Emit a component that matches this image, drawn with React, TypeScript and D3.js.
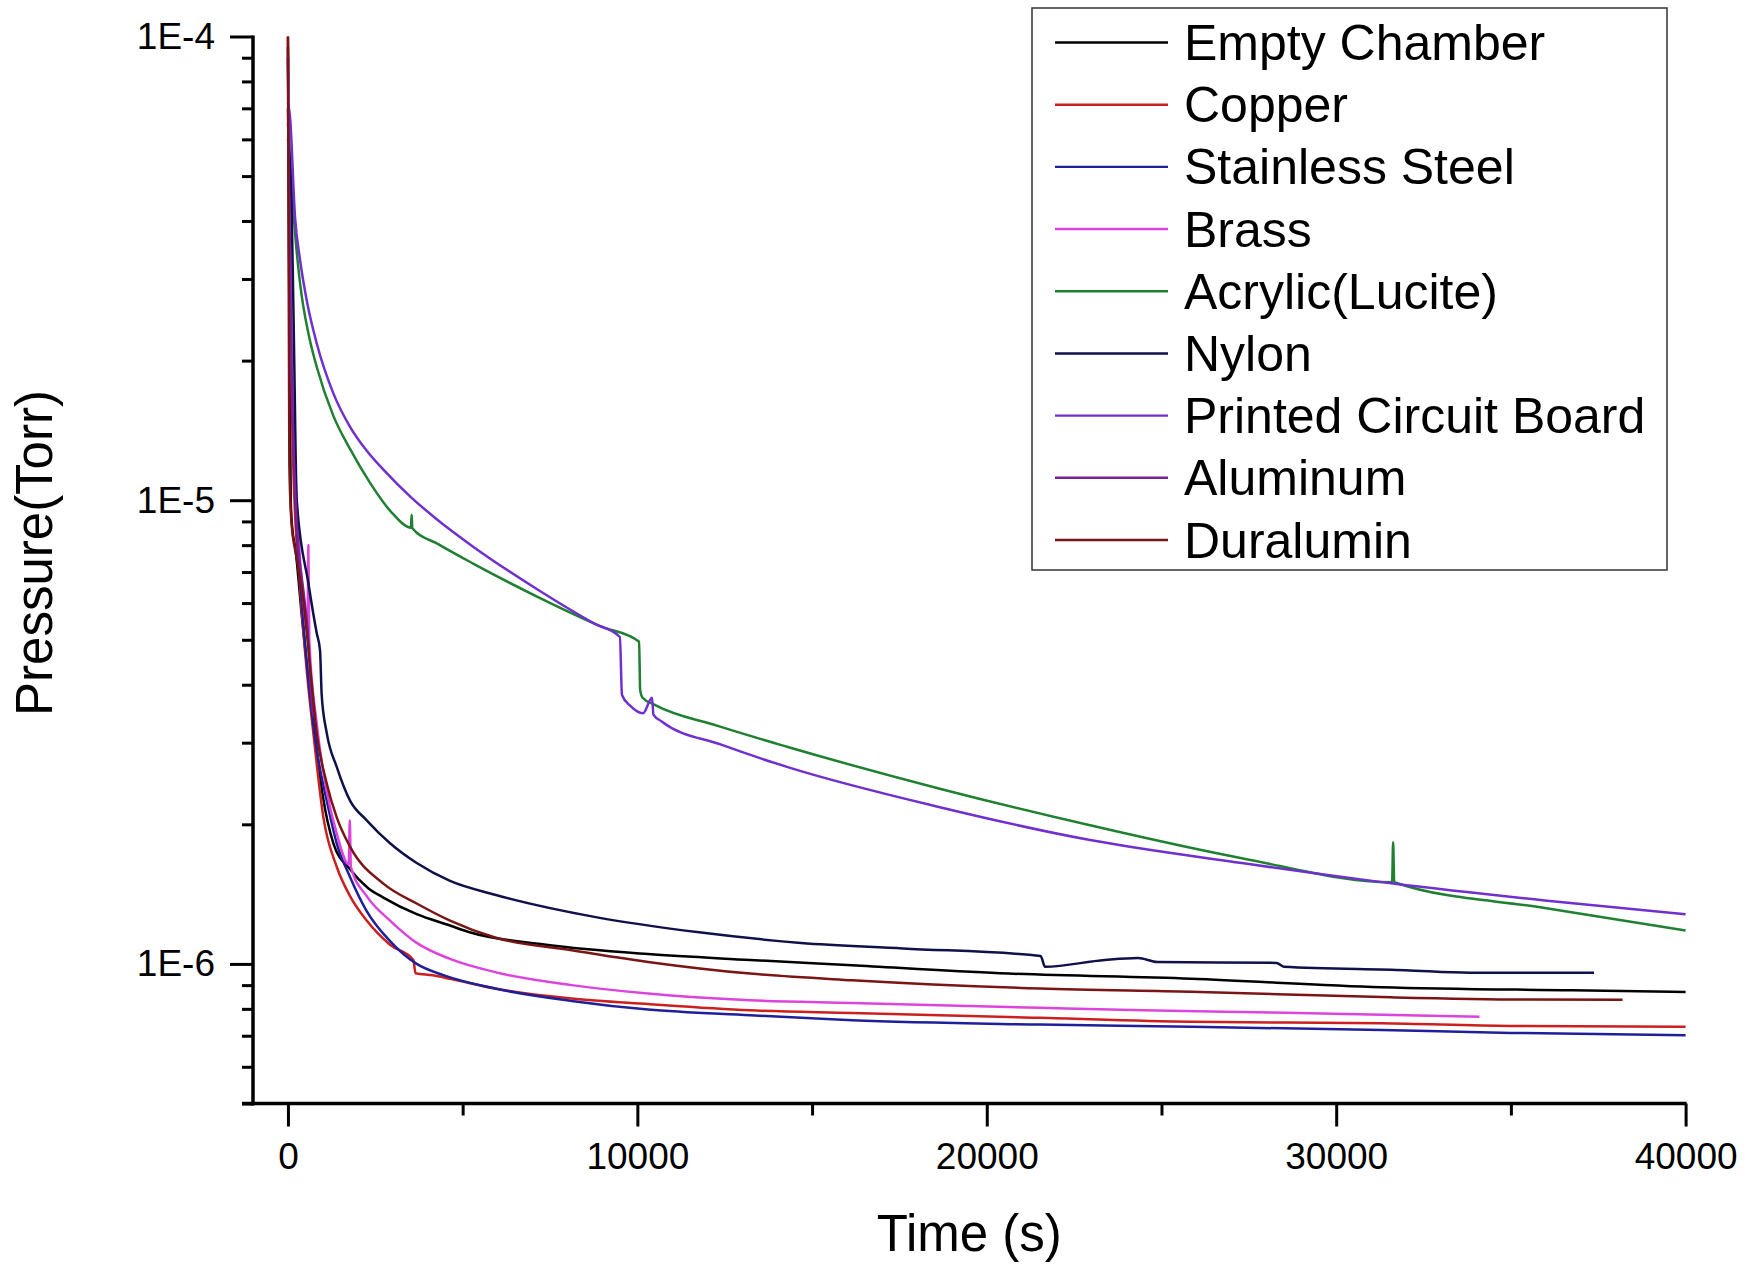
import React, { useEffect, useRef } from "react";
import * as d3 from "d3";

const W = 1748, H = 1269;
const FONT = "'Liberation Sans', Arial, sans-serif";

// [time (s), pressure (Torr)]
const emptyChamber: [number, number][] = [
  [0, 9.5e-5], [40, 2.5e-5], [80, 1.0e-5], [130, 8.6e-6], [200, 8.0e-6], [400, 5.6e-6],
  [600, 4.0e-6], [800, 3.0e-6], [1000, 2.3e-6], [1300, 1.82e-6], [1777, 1.6e-6],
  [2281, 1.46e-6], [2731, 1.39e-6], [3685, 1.28e-6], [4639, 1.21e-6], [5200, 1.17e-6],
  [7387, 1.1e-6], [10306, 1.05e-6], [13225, 1.02e-6], [16144, 9.93e-7], [20379, 9.55e-7],
  [25840, 9.29e-7], [31302, 8.91e-7], [36763, 8.77e-7], [40000, 8.7e-7],
];
const copper: [number, number][] = [
  [0, 1.0e-4], [60, 3e-5], [150, 1.2e-5], [346, 6.5e-6], [550, 4.2e-6], [727, 3.15e-6],
  [1014, 2.07e-6], [1396, 1.62e-6], [1777, 1.4e-6], [2254, 1.24e-6], [2922, 1.1e-6],
  [3590, 1.02e-6], [3650, 9.55e-7], [4150, 9.45e-7], [4639, 9.29e-7], [5927, 8.85e-7],
  [8119, 8.42e-7], [10306, 8.19e-7], [13225, 7.94e-7], [16144, 7.84e-7], [21522, 7.65e-7],
  [25840, 7.5e-7], [31302, 7.45e-7], [35000, 7.35e-7], [40000, 7.32e-7],
];
const stainlessSteel: [number, number][] = [
  [0, 9e-5], [80, 2.5e-5], [200, 1.1e-5], [400, 6.0e-6], [600, 4.0e-6], [823, 2.9e-6],
  [1110, 2.25e-6], [1396, 1.82e-6], [1777, 1.54e-6], [2254, 1.3e-6], [2922, 1.12e-6],
  [3685, 1.0e-6], [4467, 9.45e-7], [5927, 8.85e-7], [8119, 8.32e-7], [10306, 7.97e-7],
  [13225, 7.75e-7], [16144, 7.56e-7], [21522, 7.4e-7], [25840, 7.32e-7], [31302, 7.2e-7],
  [35000, 7.1e-7], [40000, 7.02e-7],
];
const brass: [number, number][] = [
  [0, 9e-5], [100, 2.2e-5], [250, 1.0e-5], [442, 6.1e-6], [560, 5.2e-6], [585, 8.0e-6],
  [610, 5.0e-6], [823, 3.3e-6], [1110, 2.36e-6], [1396, 1.91e-6], [1740, 1.64e-6],
  [1770, 2.04e-6], [1800, 1.62e-6], [2254, 1.4e-6], [2922, 1.24e-6], [3685, 1.11e-6],
  [4639, 1.025e-6], [5927, 9.6e-7], [8119, 9.0e-7], [10306, 8.63e-7], [13225, 8.35e-7],
  [16144, 8.24e-7], [21522, 8.04e-7], [24472, 7.94e-7], [28563, 7.85e-7], [34100, 7.69e-7],
];
const acrylic: [number, number][] = [
  [0, 6.5e-5], [108, 4.74e-5], [203, 3.77e-5], [346, 2.94e-5], [585, 2.29e-5],
  [823, 1.94e-5], [1300, 1.52e-5], [1777, 1.29e-5], [2350, 1.09e-5], [3000, 9.35e-6],
  [3520, 8.72e-6], [3540, 9.3e-6], [3560, 8.7e-6], [4300, 8.04e-6], [5300, 7.3e-6],
  [7200, 6.16e-6], [8970, 5.34e-6], [10050, 4.95e-6], [10080, 3.9e-6], [10150, 3.75e-6],
  [10497, 3.62e-6], [12300, 3.26e-6], [14283, 2.94e-6], [18627, 2.39e-6], [22956, 1.99e-6],
  [27299, 1.69e-6], [31600, 1.5e-6], [31630, 1.83e-6], [31660, 1.5e-6], [35970, 1.32e-6],
  [40000, 1.18e-6],
];
const nylon: [number, number][] = [
  [0, 6e-5], [100, 4.5e-5], [180, 2e-5], [251, 1.0e-5], [585, 6.62e-6], [823, 5.17e-6],
  [918, 4.75e-6], [966, 3.8e-6], [1110, 3.15e-6], [1396, 2.66e-6], [1777, 2.25e-6],
  [2254, 2.04e-6], [2922, 1.82e-6], [3685, 1.65e-6], [4639, 1.51e-6], [5927, 1.41e-6],
  [8847, 1.26e-6], [11766, 1.17e-6], [14686, 1.11e-6], [17600, 1.08e-6], [21541, 1.04e-6],
  [21668, 9.86e-7], [23383, 1.02e-6], [24330, 1.03e-6], [24880, 1.01e-6], [28296, 1.005e-6],
  [28500, 9.86e-7], [31983, 9.69e-7], [33830, 9.57e-7], [37379, 9.57e-7],
];
const pcb: [number, number][] = [
  [0, 7.2e-5], [60, 6.7e-5], [203, 4.08e-5], [346, 3.3e-5], [537, 2.7e-5], [823, 2.18e-5],
  [1300, 1.7e-5], [1777, 1.44e-5], [2250, 1.28e-5], [2731, 1.164e-5], [3540, 1.012e-5],
  [4258, 9.1e-6], [5300, 7.94e-6], [7200, 6.38e-6], [8770, 5.42e-6], [9500, 5.07e-6],
  [9560, 3.8e-6], [9800, 3.6e-6], [10163, 3.47e-6], [10420, 3.75e-6], [10460, 3.45e-6],
  [10706, 3.33e-6], [12400, 2.97e-6], [14283, 2.66e-6], [18627, 2.18e-6], [22956, 1.85e-6],
  [27299, 1.65e-6], [31630, 1.49e-6], [35970, 1.37e-6], [40000, 1.28e-6],
];
const aluminum: [number, number][] = [
  [0, 7e-5], [100, 2e-5], [250, 9e-6], [450, 6.3e-6], [560, 5.3e-6], [690, 3.6e-6], [750, 3.4e-6],
];
const duralumin: [number, number][] = [
  [0, 1.0e-4], [40, 1.2e-5], [100, 9e-6], [250, 7.5e-6], [442, 6.08e-6], [633, 4.38e-6],
  [823, 3.15e-6], [1110, 2.45e-6], [1396, 2.07e-6], [1777, 1.79e-6], [2731, 1.49e-6],
  [3685, 1.35e-6], [4639, 1.24e-6], [5927, 1.14e-6], [8119, 1.07e-6], [10306, 1.01e-6],
  [13225, 9.53e-7], [16144, 9.22e-7], [21522, 8.85e-7], [25840, 8.71e-7], [31302, 8.48e-7],
  [35398, 8.38e-7], [38196, 8.37e-7],
];

const seriesNames = [
  "Empty Chamber", "Copper", "Stainless Steel", "Brass", "Acrylic(Lucite)",
  "Nylon", "Printed Circuit Board", "Aluminum", "Duralumin",
];
const seriesColors = [
  "#000000", "#cc1f1f", "#1f1f9a", "#dd44dd", "#1e8030",
  "#10104a", "#7030d0", "#7a1f9a", "#7b1515",
];
const seriesData = [emptyChamber, copper, stainlessSteel, brass, acrylic, nylon, pcb, aluminum, duralumin];

const xMajor = [0, 10000, 20000, 30000, 40000];
const xMinor = [5000, 15000, 25000, 35000];
const yMajor = [1e-4, 1e-5, 1e-6];
const yLabels = ["1E-4", "1E-5", "1E-6"];

export default function App() {
  const svgRef = useRef<SVGSVGElement>(null);

  useEffect(() => {
    const svg = d3.select(svgRef.current);
    svg.selectAll("*").remove();
    svg.attr("width", W).attr("height", H);
    svg.append("rect").attr("width", W).attr("height", H).attr("fill", "#fff");

    const left = 253, right = 1685.6, top = 36.5, bottom = 1103.5;

    const x = d3.scaleLinear().domain([-1000, 40000]).range([left, right]);
    const y = d3.scaleLog().domain([5e-7, 1e-4]).range([bottom, top]);

    // curves, legend order so Duralumin ends up on top
    const line = d3.line<[number, number]>()
      .x(d => x(d[0]))
      .y(d => y(d[1]))
      .curve(d3.curveMonotoneX);

    seriesData.forEach((data, i) => {
      svg.append("path")
        .datum(data)
        .attr("d", line)
        .attr("fill", "none")
        .attr("stroke", seriesColors[i])
        .attr("stroke-width", 2.5)
        .attr("stroke-linejoin", "round");
    });

    // y axis
    const yMinor = y.ticks().filter(v => !yMajor.some(m => Math.abs(m - v) / m < 1e-6));
    svg.append("g")
      .attr("transform", `translate(${left},0)`)
      .call(d3.axisLeft(y).tickValues(yMinor).tickSize(11).tickFormat(() => ""))
      .call(g => g.select(".domain").remove())
      .call(g => g.selectAll("line").attr("stroke", "#000").attr("stroke-width", 3));
    svg.append("g")
      .attr("transform", `translate(${left},0)`)
      .call(d3.axisLeft(y).tickValues(yMajor).tickSize(23).tickPadding(15)
        .tickFormat((_, i) => yLabels[i]))
      .call(g => g.select(".domain").remove())
      .call(g => g.selectAll("line").attr("stroke", "#000").attr("stroke-width", 3))
      .call(g => g.selectAll("text").attr("fill", "#000"))
      .attr("font-size", 37)
      .attr("font-family", FONT);

    // x axis
    svg.append("g")
      .attr("transform", `translate(0,${bottom})`)
      .call(d3.axisBottom(x).tickValues(xMinor).tickSize(12).tickFormat(() => ""))
      .call(g => g.select(".domain").remove())
      .call(g => g.selectAll("line").attr("stroke", "#000").attr("stroke-width", 3));
    svg.append("g")
      .attr("transform", `translate(0,${bottom})`)
      .call(d3.axisBottom(x).tickValues(xMajor).tickSize(23).tickPadding(16)
        .tickFormat(d => String(d)))
      .call(g => g.select(".domain").remove())
      .call(g => g.selectAll("line").attr("stroke", "#000").attr("stroke-width", 3))
      .call(g => g.selectAll("text").attr("fill", "#000"))
      .attr("font-size", 37)
      .attr("font-family", FONT);

    // axis lines
    svg.append("line")
      .attr("x1", left).attr("x2", left).attr("y1", top - 1).attr("y2", bottom + 2)
      .attr("stroke", "#000").attr("stroke-width", 3.5);
    svg.append("line")
      .attr("x1", left - 11).attr("x2", right + 1).attr("y1", bottom).attr("y2", bottom)
      .attr("stroke", "#000").attr("stroke-width", 3.5);

    // axis titles
    svg.append("text")
      .attr("x", (left + right) / 2)
      .attr("y", 1251)
      .attr("text-anchor", "middle")
      .attr("font-family", FONT)
      .attr("font-size", 51)
      .attr("fill", "#000")
      .text("Time (s)");

    svg.append("text")
      .attr("transform", `translate(52,553) rotate(-90)`)
      .attr("text-anchor", "middle")
      .attr("font-family", FONT)
      .attr("font-size", 51)
      .attr("fill", "#000")
      .text("Pressure(Torr)");

    // legend
    const lg = svg.append("g");
    lg.append("rect")
      .attr("x", 1032).attr("y", 8).attr("width", 635).attr("height", 562)
      .attr("fill", "#fff").attr("stroke", "#333").attr("stroke-width", 1.5);

    const rowY = d3.scaleLinear().domain([0, seriesNames.length - 1]).range([42.5, 540]);
    seriesNames.forEach((name, i) => {
      lg.append("line")
        .attr("x1", 1055).attr("x2", 1168)
        .attr("y1", rowY(i)).attr("y2", rowY(i))
        .attr("stroke", seriesColors[i])
        .attr("stroke-width", 2.4);
      lg.append("text")
        .attr("x", 1184)
        .attr("y", rowY(i) + 17.5)
        .attr("font-family", FONT)
        .attr("font-size", 50)
        .attr("fill", "#000")
        .text(name);
    });
  }, []);

  return (
    <svg
      ref={svgRef}
      style={{ position: "absolute", left: 0, top: 0, display: "block" }}
    />
  );
}
